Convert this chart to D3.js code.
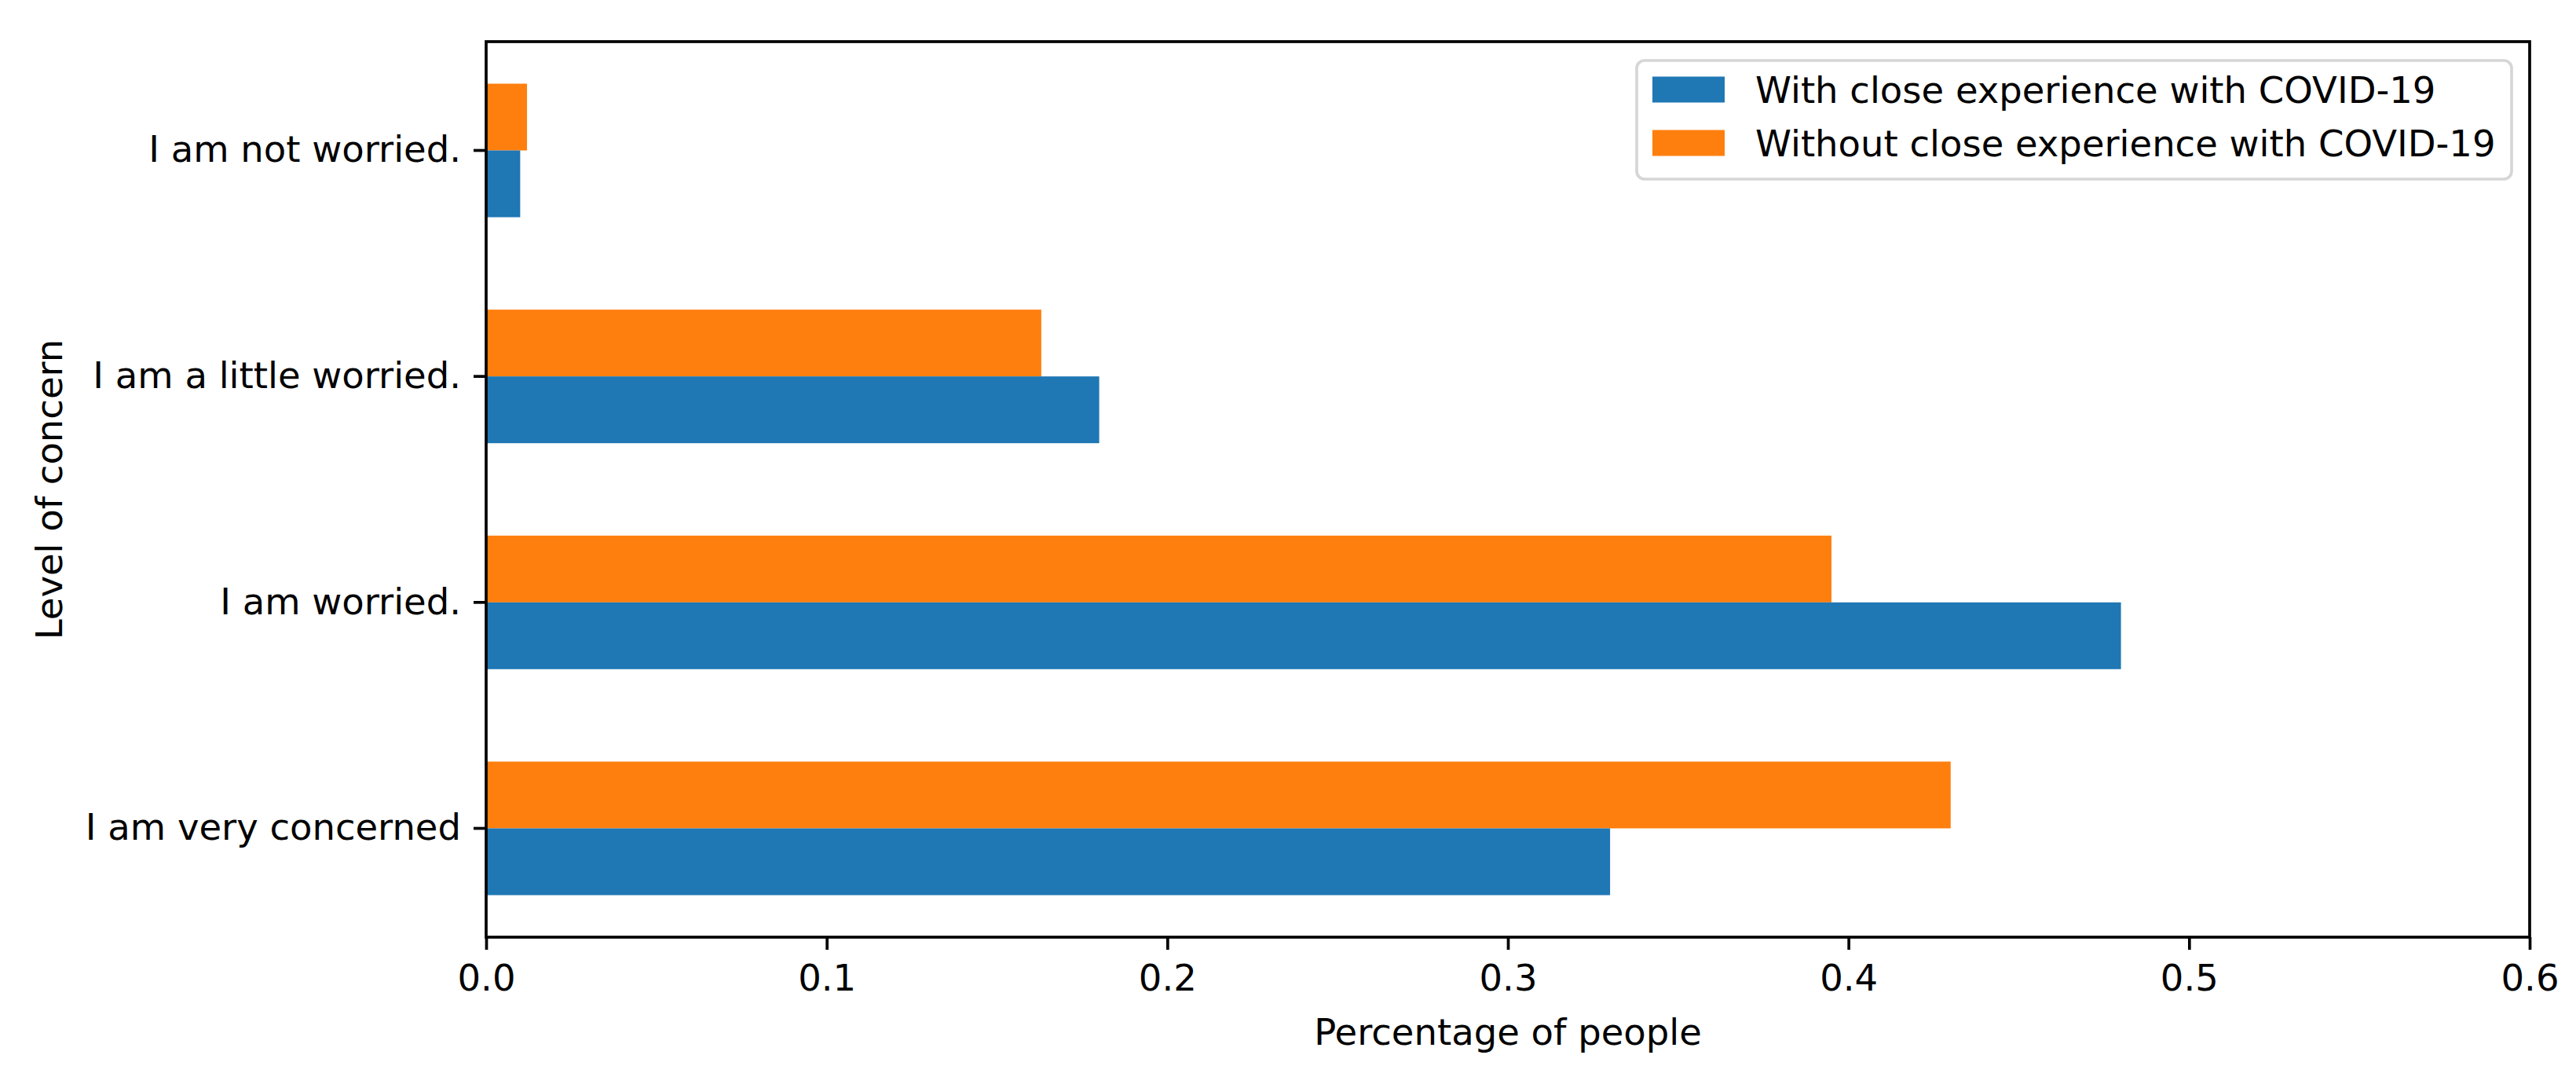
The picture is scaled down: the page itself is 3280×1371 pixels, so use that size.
<!DOCTYPE html>
<html>
<head>
<meta charset="utf-8">
<script src="https://cdn.jsdelivr.net/npm/d3@7"></script>
<style>
  html, body { margin: 0; padding: 0; background: #ffffff; }
  svg { display: block; font-family: "DejaVu Sans", sans-serif; }
</style>
</head>
<body>
<svg id="chart" width="3280" height="1371"></svg>
<script>
// Data (categories listed bottom to top as in the picture)
const categories = ["I am very concerned", "I am worried.", "I am a little worried.", "I am not worried."];
const seriesNames = ["With close experience with COVID-19", "Without close experience with COVID-19"];
const withClose = [0.33, 0.48, 0.18, 0.01];
const withoutClose = [0.43, 0.395, 0.163, 0.012];
const xTicks = [0.0, 0.1, 0.2, 0.3, 0.4, 0.5, 0.6];
const colors = ["#1f77b4", "#ff7f0e"];

const svg = d3.select("#chart");
const mLeft = 619, mRight = 3221, mTop = 53, mBottom = 1193;
const fs = 46.5;

const x = d3.scaleLinear().domain([0, 0.6]).range([mLeft, mRight]);
const y = d3.scaleBand().domain(categories.slice().reverse()).range([mTop, mBottom])
  .paddingInner(0.409).paddingOuter(0.186).align(0.5);
// orange (without) above, blue (with) below
const sub = d3.scaleBand().domain(["without", "with"]).range([0, y.bandwidth()]);

const rows = categories.map((c, i) => ({cat: c, with: withClose[i], without: withoutClose[i]}));

const g = svg.append("g");
["without", "with"].forEach(key => {
  g.selectAll("rect." + key).data(rows).enter().append("rect")
    .attr("class", key)
    .attr("x", x(0))
    .attr("y", d => y(d.cat) + sub(key))
    .attr("width", d => x(d[key]) - x(0))
    .attr("height", sub.bandwidth())
    .attr("fill", key === "with" ? colors[0] : colors[1]);
});

// Axes
const xAxis = d3.axisBottom(x).tickValues(xTicks).tickFormat(d3.format(".1f"))
  .tickSize(16).tickPadding(19);
const xg = svg.append("g").attr("transform", `translate(0,${mBottom})`).call(xAxis);
xg.select(".domain").remove();
xg.selectAll(".tick line").attr("stroke", "#000").attr("stroke-width", 3.7);
xg.selectAll(".tick text").attr("font-size", fs).attr("fill", "#000")
  .attr("font-family", "DejaVu Sans, sans-serif");

const yAxis = d3.axisLeft(y).tickSize(16).tickPadding(16);
const yg = svg.append("g").attr("transform", `translate(${mLeft},0)`).call(yAxis);
yg.select(".domain").remove();
yg.selectAll(".tick line").attr("stroke", "#000").attr("stroke-width", 3.7);
yg.selectAll(".tick text").attr("font-size", fs).attr("fill", "#000")
  .attr("font-family", "DejaVu Sans, sans-serif");

// Spines
svg.append("rect").attr("x", mLeft).attr("y", mTop)
  .attr("width", mRight - mLeft).attr("height", mBottom - mTop)
  .attr("fill", "none").attr("stroke", "#000").attr("stroke-width", 3.7);

// Axis labels
svg.append("text").attr("x", (mLeft + mRight) / 2).attr("y", 1330)
  .attr("text-anchor", "middle").attr("font-size", fs).attr("fill", "#000")
  .text("Percentage of people");
svg.append("text").attr("transform", `translate(79,${(mTop + mBottom) / 2}) rotate(-90)`)
  .attr("text-anchor", "middle").attr("font-size", fs).attr("fill", "#000")
  .text("Level of concern");

// Legend
const lg = svg.append("g");
lg.append("rect").attr("x", 2084).attr("y", 77).attr("width", 3198 - 2084).attr("height", 228 - 77)
  .attr("rx", 10).attr("ry", 10)
  .attr("fill", "#fff").attr("fill-opacity", 0.8)
  .attr("stroke", "#d6d6d6").attr("stroke-width", 3.7);
const legCy = [114, 182];
seriesNames.forEach((name, i) => {
  lg.append("rect").attr("x", 2104).attr("y", legCy[i] - 16.5).attr("width", 92).attr("height", 33)
    .attr("fill", colors[i]);
  lg.append("text").attr("x", 2235).attr("y", legCy[i]).attr("dy", "0.36em")
    .attr("font-size", fs).attr("fill", "#000").text(name);
});
</script>
</body>
</html>
